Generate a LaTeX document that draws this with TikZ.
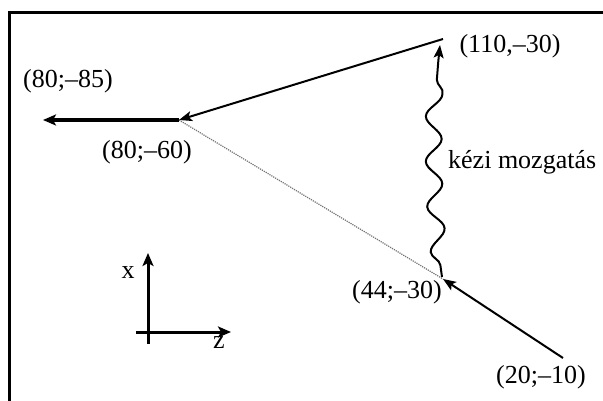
\documentclass[tikz,border=0pt]{standalone}
\usepackage{fontspec}
\setmainfont{Liberation Serif}
\usetikzlibrary{arrows.meta,decorations.pathmorphing}
\begin{document}
\begin{tikzpicture}[x=1pt,y=-1pt,
  lbl/.style={inner sep=0pt,font=\fontsize{26}{30}\selectfont},
  tip/.style={-{Stealth[length=13pt,width=10pt,inset=3pt]}},
  mainline/.style={line width=2pt,tip},
  thickline/.style={line width=3.5pt,-{Stealth[length=13pt,width=11pt,inset=3pt]}},
  axisline/.style={line width=3pt},
  guide/.style={line width=1.2pt,black!55,densely dotted},
  wave/.style={line width=2pt,decorate,decoration={snake,segment length=45pt,amplitude=8pt,pre length=12pt,post length=16pt}}]
\useasboundingbox (0,0) rectangle (603,401);
% frame
\draw[line width=3pt] (9,401) -- (9,13) -- (603,13);
% points
\coordinate (P110) at (443,39);
\coordinate (P80) at (179,120);
\coordinate (Lend) at (43,120);
\coordinate (P44) at (443,279);
\coordinate (P20) at (563,358);
\coordinate (Wbeg) at (442,277);
\coordinate (Wend) at (440,45);
% labels
\node[lbl] (l110) at (510,46) {(110,–30)};
\node[lbl] (l85) at (68,81) {(80;–85)};
\node[lbl] (l60) at (147,152) {(80;–60)};
\node[lbl,anchor=west] (lkezi) at (448,162) {kézi mozgatás};
\node[lbl] (l44) at (397,292) {(44;–30)};
\node[lbl] (l20) at (541,377) {(20;–10)};
% connectors
\draw[guide] (P80) -- (P44);
\draw[mainline] (P110) -- (P80);
\draw[thickline] (P80) -- (Lend);
\draw[mainline] (P20) -- (P44);
\draw[wave,tip] (Wbeg) .. controls (433,220) and (433,100) .. (Wend);
% axes
\coordinate (Ob) at (148,344);
\coordinate (Xt) at (148,253);
\coordinate (Ol) at (136,332);
\coordinate (Zt) at (231,332);
\draw[axisline,-{Stealth[length=13pt,width=11pt,inset=3pt]}] (Ob) -- (Xt);
\draw[axisline,-{Stealth[length=13pt,width=11pt,inset=3pt]}] (Ol) -- (Zt);
\node[lbl] (lx) at (128,273) {x};
\node[lbl] (lz) at (219,343) {z};
\end{tikzpicture}
\end{document}
